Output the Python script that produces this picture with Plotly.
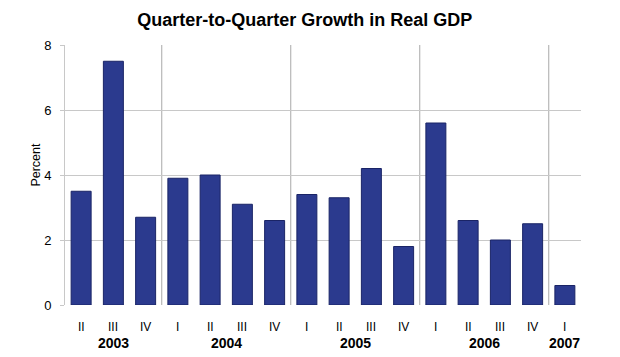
import plotly.graph_objects as go

quarters = ["II", "III", "IV", "I", "II", "III", "IV", "I", "II", "III", "IV", "I", "II", "III", "IV", "I"]
growth = [3.5, 7.5, 2.7, 3.9, 4.0, 3.1, 2.6, 3.4, 3.3, 4.2, 1.8, 5.6, 2.6, 2.0, 2.5, 0.6]
years = ["2003", "2004", "2005", "2006", "2007"]
year_counts = [3, 4, 4, 4, 1]
y_ticks = [0, 2, 4, 6, 8]

x = list(range(len(growth)))
FONT = "Liberation Sans, Arial"

fig = go.Figure()
fig.add_trace(go.Bar(
    x=x, y=growth,
    marker=dict(color="#2B3A8E", line=dict(color="#1A2466", width=1)),
    width=0.62,
))

annotations = []
for i, q in enumerate(quarters):
    annotations.append(dict(x=i, y=0, xref="x", yref="y", text=q, showarrow=False,
                            yanchor="middle", yshift=-22,
                            font=dict(family=FONT, size=12, color="#000")))
start = 0
shapes = []
for yr, n in zip(years, year_counts):
    center = start + (n - 1) / 2
    annotations.append(dict(x=center, y=0, xref="x", yref="y", text="<b>" + yr + "</b>", showarrow=False,
                            yanchor="middle", yshift=-38,
                            font=dict(family=FONT, size=14, color="#000")))
    start += n
    if start < len(growth):
        shapes.append(dict(type="line", xref="x", yref="y", x0=start - 0.5, x1=start - 0.5, y0=0, y1=8,
                           line=dict(color="#A8A8A8", width=1), layer="below"))

annotations.append(dict(x=0, y=0.54, xref="paper", yref="paper", text="Percent", showarrow=False,
                        textangle=-90, xanchor="center", yanchor="middle", xshift=-29,
                        font=dict(family=FONT, size=12.5, color="#000")))

fig.update_layout(
    width=612, height=349,
    margin=dict(l=57, r=39, t=37, b=52),
    paper_bgcolor="white", plot_bgcolor="white",
    title=dict(text="<b>Quarter-to-Quarter Growth in Real GDP</b>", x=0.485, xanchor="center",
               y=0.966, yanchor="middle",
               font=dict(family=FONT, size=18, color="#000")),
    showlegend=False,
    bargap=0.38,
    xaxis=dict(range=[-0.5, 15.5], showticklabels=False, ticks="", showgrid=False, zeroline=False,
               showline=False, fixedrange=True),
    yaxis=dict(range=[0, 8], tickvals=y_ticks, showgrid=True, gridcolor="#C8C8C8", gridwidth=1,
               zeroline=False, showline=True, linecolor="#C8C8C8", ticks="outside", ticklen=4,
               tickcolor="#C8C8C8", ticklabelstandoff=6,
               tickfont=dict(family=FONT, size=13, color="#000")),
    annotations=annotations,
    shapes=shapes,
)

fig.write_html("out.html")
